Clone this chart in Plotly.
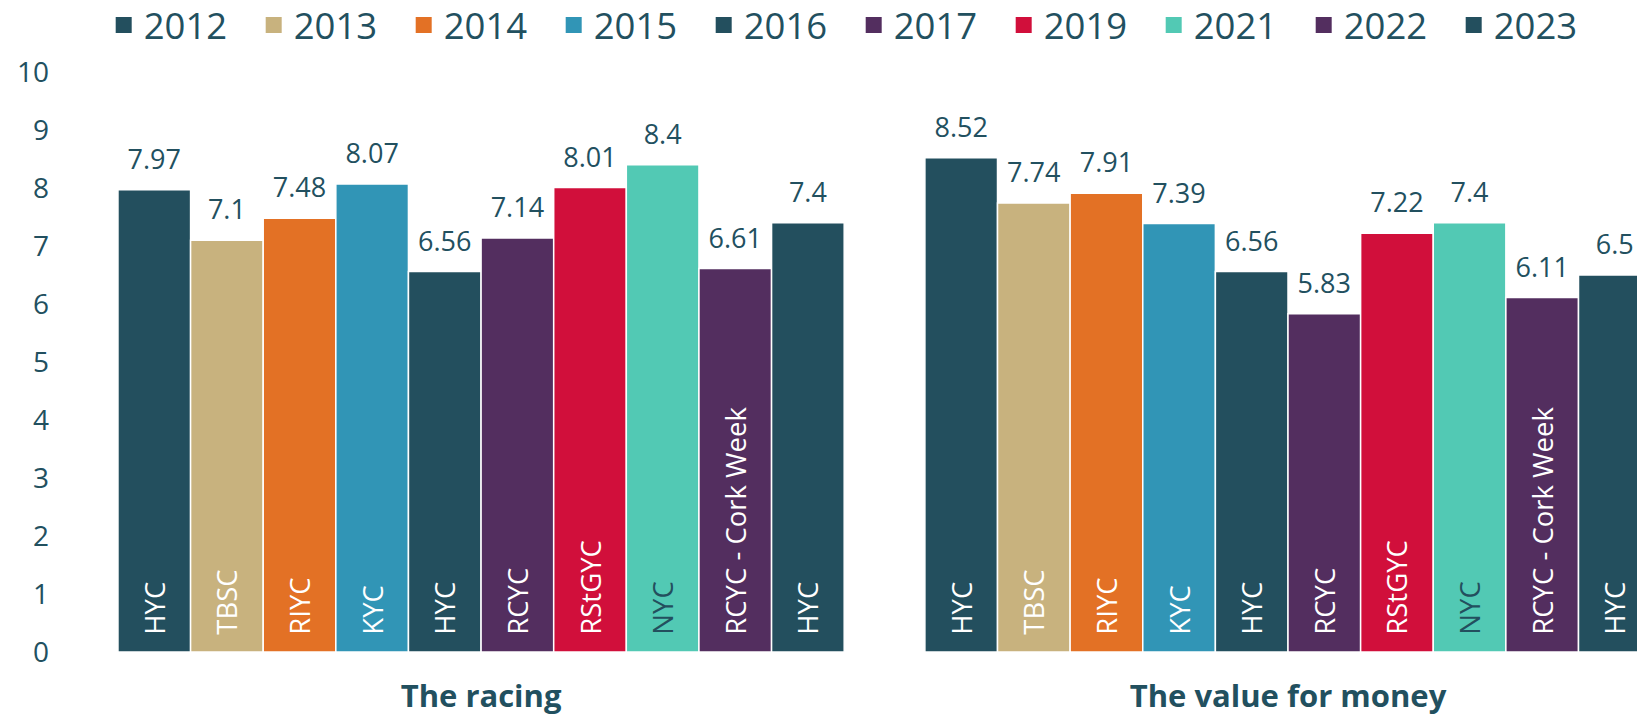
import plotly.graph_objects as go

categories = ["The racing", "The value for money"]
years = ["2012", "2013", "2014", "2015", "2016", "2017", "2019", "2021", "2022", "2023"]
clubs = ["HYC", "TBSC", "RIYC", "KYC", "HYC", "RCYC", "RStGYC", "NYC", "RCYC - Cork Week", "HYC"]
racing = [7.97, 7.1, 7.48, 8.07, 6.56, 7.14, 8.01, 8.4, 6.61, 7.4]
value_for_money = [8.52, 7.74, 7.91, 7.39, 6.56, 5.83, 7.22, 7.4, 6.11, 6.5]
colors = ["#234F5E", "#C8B27E", "#E37125", "#3195B6", "#234F5E",
          "#532E5F", "#D10F3B", "#52C9B4", "#532E5F", "#234F5E"]
label_colors = ["white"] * 7 + ["#234F5E"] + ["white"] * 2

TXT = "#22505F"
FONT = "Open Sans"

fig = go.Figure()
# bars with club names inside
for i, yr in enumerate(years):
    vals = [racing[i], value_for_money[i]]
    fig.add_trace(go.Bar(
        x=categories, y=vals, name=yr, offsetgroup="g%d" % i,
        marker=dict(color=colors[i], line=dict(color="white", width=1.5)),
        text=[clubs[i]] * 2,
        texttemplate="\u00a0\u00a0%{text}",
        textposition="inside", insidetextanchor="start", textangle=-90,
        constraintext="none",
        insidetextfont=dict(family=FONT, size=27.5, color=label_colors[i]),
        hoverinfo="skip", showlegend=False,
    ))
# value labels above the bars
for i, yr in enumerate(years):
    vals = [racing[i], value_for_money[i]]
    fig.add_trace(go.Scatter(
        x=categories, y=vals, offsetgroup="g%d" % i, mode="markers+text",
        marker=dict(size=21, color="rgba(0,0,0,0)"),
        text=[("%g" % v) for v in vals], textposition="top center",
        textfont=dict(family=FONT, size=27, color=TXT),
        showlegend=False, hoverinfo="skip", cliponaxis=False,
    ))
# legend entries (square swatches)
for i, yr in enumerate(years):
    fig.add_trace(go.Scatter(
        x=[None], y=[None], name=yr, offsetgroup="g%d" % i, mode="markers",
        marker=dict(symbol="square", size=16, color=colors[i], line=dict(width=0)),
        hoverinfo="skip", showlegend=True,
    ))

fig.update_layout(
    width=1637, height=719,
    barmode="group", bargap=0.1, bargroupgap=0,
    scattermode="group", scattergap=0.1,
    plot_bgcolor="white", paper_bgcolor="white",
    margin=dict(l=76, r=0, t=72, b=67, autoexpand=False),
    font=dict(family=FONT, color=TXT),
    legend=dict(orientation="h", xref="container", yref="container",
                x=0.5215, xanchor="center", y=0.965, yanchor="middle",
                font=dict(family=FONT, size=36.5, color=TXT),
                entrywidth=105, traceorder="normal", itemsizing="trace"),
    xaxis=dict(range=[-0.502, 1.4325], showgrid=False, zeroline=False, showline=False,
               automargin=False,
               tickfont=dict(family=FONT, size=31, color=TXT, weight="bold"),
               ticklabelstandoff=23),
    yaxis=dict(range=[0, 10], dtick=1, showgrid=False, zeroline=False, showline=False,
               automargin=False,
               tickfont=dict(family=FONT, size=28, color=TXT),
               ticklabelstandoff=26),
)

fig.write_html("out.html", config={"displayModeBar": False},
               post_script="document.body.style.margin='0px';document.body.style.overflow='hidden';")
